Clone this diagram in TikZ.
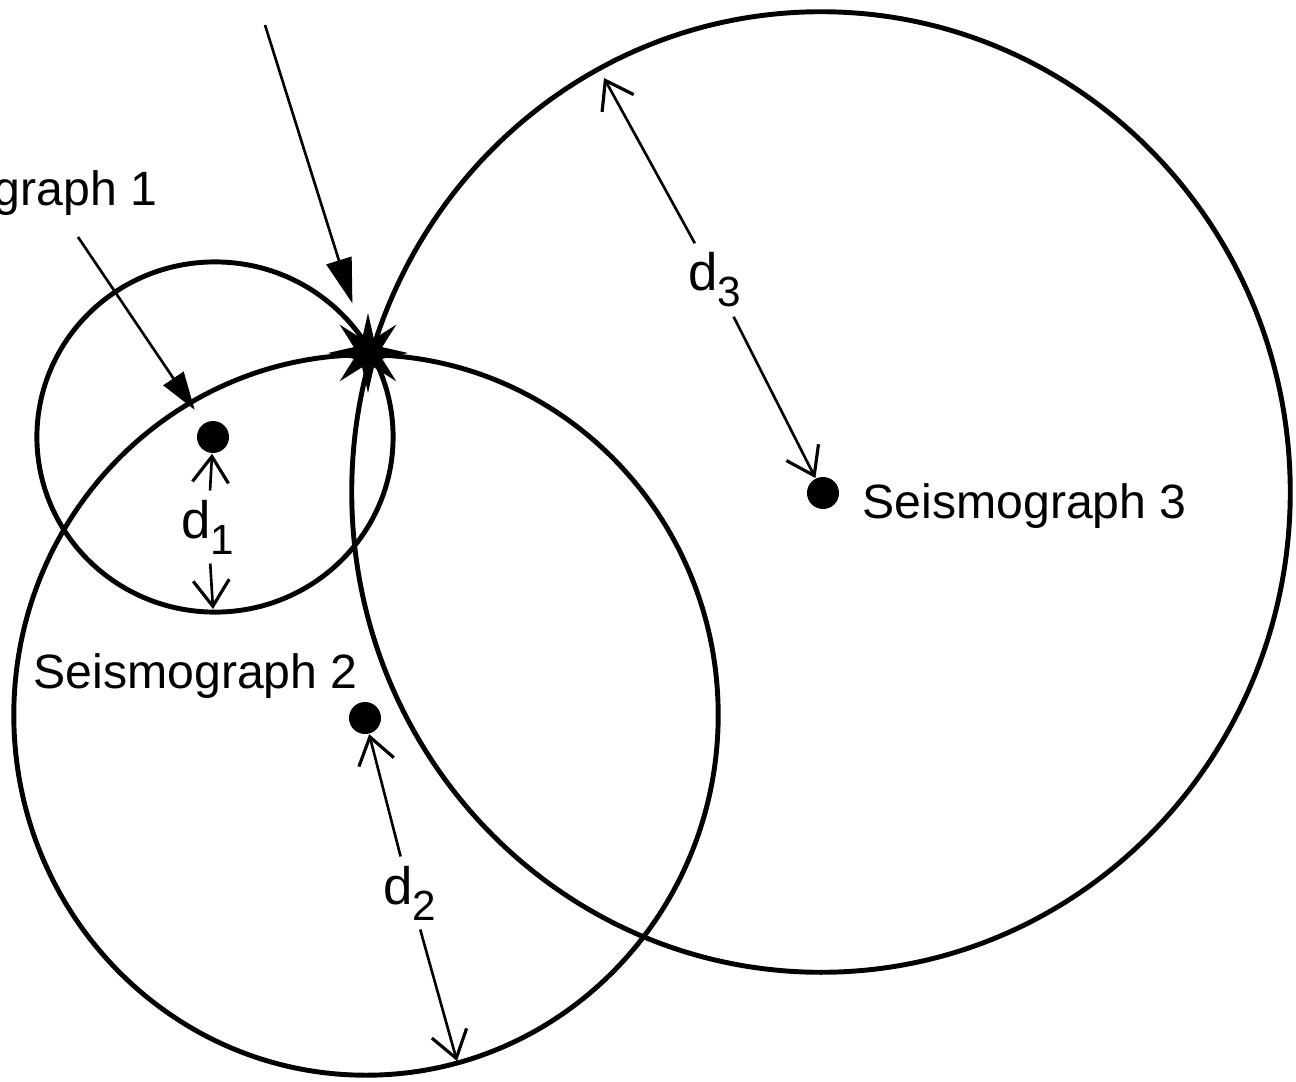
\documentclass[tikz,border=0pt]{standalone}
\usepackage{fontspec}
\setmainfont{Liberation Sans}
\usetikzlibrary{arrows.meta,shapes.geometric}
\newcommand\dlab[1]{d\raisebox{-4.5pt}{\fontsize{12}{13}\selectfont #1}}
\begin{document}
\begin{tikzpicture}[x=0.01cm,y=-0.01cm,
 ring/.style={line width=1.4pt},
 dot/.style={circle,fill,inner sep=0pt,minimum size=0.32cm},
 lbl/.style={font=\fontsize{13.7}{16}\selectfont,inner sep=0pt},
 dlbl/.style={font=\fontsize{15}{17}\selectfont,inner sep=2.5pt},
 thinline/.style={line width=0.75pt},
 pointer/.style={thinline,-{Triangle[length=0.45cm,width=0.26cm]}},
 smallpointer/.style={thinline,-{Triangle[length=0.38cm,width=0.24cm]}},
 dist/.style={thinline,-{Straight Barb[length=0.26cm,width=0.36cm,line width=0.9pt]}},
 epic/.style={star,star points=8,star point ratio=2.6,fill,inner sep=0pt,minimum size=0.8cm}]
\useasboundingbox (0,0) rectangle (1296,1081);
\fill[white] (0,0) rectangle (1296,1081);

% circle centres
\coordinate (c1) at (215,437);
\coordinate (c2) at (366,715);
\coordinate (c3) at (821,492);

\draw[ring] (c1) ellipse [x radius=1.78cm,y radius=1.75cm];
\draw[ring] (c2) ellipse [x radius=3.52cm,y radius=3.60cm];
\draw[ring] (c3) ellipse [x radius=4.69cm,y radius=4.80cm];

% stations and epicentre
\node[dot] (s1) at (213,437) {};
\node[dot] (s2) at (365,718) {};
\node[dot] (s3) at (823,493) {};
\node[epic] (ep) at (368,353) {};

% labels
\node[lbl,anchor=base east] (l1) at (158,205) {Seismograph 1};
\node[lbl,anchor=base west] (l2) at (33,688) {Seismograph 2};
\node[lbl,anchor=base west] (l3) at (862,518) {Seismograph 3};
\node[dlbl] (d1) at (208,527) {\dlab{1}};
\node[dlbl] (d2) at (410,893) {\dlab{2}};
\node[dlbl] (d3) at (715,280) {\dlab{3}};

% free ends
\coordinate (b1) at (213,609);
\coordinate (b2) at (457,1061);
\coordinate (b3) at (604,78);
\coordinate (p0) at (265,25);
\coordinate (q0) at (78,237);

% pointers
\draw[pointer,shorten >=0.52cm] (p0) -- (ep.center);
\draw[smallpointer,shorten >=0.16cm] (q0) -- (s1);

% distances
\draw[dist] (d1) -- (s1);
\draw[dist] (d1) -- (b1);
\draw[dist] (d2) -- (s2);
\draw[dist] (d2) -- (b2);
\draw[dist] (d3) -- (b3);
\draw[dist] (d3) -- (s3);
\end{tikzpicture}
\end{document}
